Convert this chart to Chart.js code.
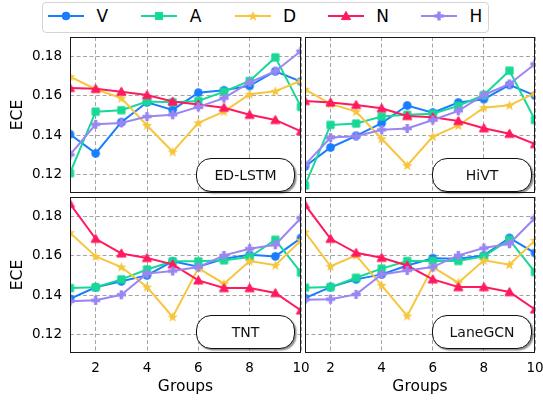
<!DOCTYPE html>
<html>
<head>
<meta charset="utf-8">
<script src="https://cdn.jsdelivr.net/npm/chart.js@4.4.1/dist/chart.umd.min.js"></script>
<style>
html,body{margin:0;padding:0;background:#fff;}
#wrap{position:relative;width:543px;height:403px;overflow:hidden;font-family:"DejaVu Sans",sans-serif;background:#fff;}
canvas.layer{position:absolute;left:0;top:0;}
.tag{position:absolute;box-sizing:border-box;border:1.3px solid #111;border-radius:15px;background:#fff;
  box-shadow:1.5px 1.5px 1.5px rgba(0,0,0,0.45);font-size:14px;display:flex;align-items:center;justify-content:center;color:#111;font-family:"DejaVu Sans",sans-serif;}
#legend{position:absolute;left:42px;top:2px;width:447px;height:31px;box-sizing:border-box;border:1px solid #d4d4d4;border-radius:4px;background:#fff;}
.lsym{position:absolute;}
.ltxt{position:absolute;font-size:17px;line-height:17px;height:17px;color:#000;white-space:nowrap;}
</style>
</head>
<body>
<div id="wrap">
  <canvas id="c0" class="layer" width="543" height="403"></canvas>
  <canvas id="c1" class="layer" width="543" height="403"></canvas>
  <canvas id="c2" class="layer" width="543" height="403"></canvas>
  <canvas id="c3" class="layer" width="543" height="403"></canvas>
  <div id="legend"></div>
</div>
<script>
// ---------------- data ----------------
const GROUPS = [1, 2, 3, 4, 5, 6, 7, 8, 9, 10];
const SERIES_NAMES = ['V', 'A', 'D', 'N', 'H'];
const PANEL_NAMES = ['ED-LSTM', 'HiVT', 'TNT', 'LaneGCN'];
const Y_TICKS = [0.12, 0.14, 0.16, 0.18];
const X_TICKS = [2, 4, 6, 8, 10];

const ED_LSTM_V = [0.1405, 0.1308, 0.1466, 0.1566, 0.1528, 0.1615, 0.1627, 0.1649, 0.1723, 0.1671];
const ED_LSTM_A = [0.1208, 0.1519, 0.1526, 0.1570, 0.1566, 0.1573, 0.1620, 0.1674, 0.1793, 0.1543];
const ED_LSTM_D = [0.1696, 0.1632, 0.1587, 0.1449, 0.1316, 0.1462, 0.1519, 0.1607, 0.1622, 0.1676];
const ED_LSTM_N = [0.1639, 0.1634, 0.1620, 0.1603, 0.1570, 0.1555, 0.1539, 0.1503, 0.1477, 0.1420];
const ED_LSTM_H = [0.1301, 0.1455, 0.1462, 0.1494, 0.1503, 0.1543, 0.1587, 0.1667, 0.1723, 0.1825];

const HIVT_V = [0.1242, 0.1338, 0.1397, 0.1461, 0.1550, 0.1514, 0.1565, 0.1582, 0.1654, 0.1600];
const HIVT_A = [0.1146, 0.1452, 0.1459, 0.1494, 0.1503, 0.1508, 0.1548, 0.1603, 0.1726, 0.1477];
const HIVT_D = [0.1632, 0.1558, 0.1519, 0.1382, 0.1247, 0.1393, 0.1449, 0.1539, 0.1551, 0.1612];
const HIVT_N = [0.1573, 0.1565, 0.1553, 0.1536, 0.1497, 0.1491, 0.1472, 0.1435, 0.1407, 0.1355];
const HIVT_H = [0.1250, 0.1388, 0.1395, 0.1427, 0.1434, 0.1477, 0.1523, 0.1603, 0.1659, 0.1760];

const TNT_V = [0.1382, 0.1440, 0.1470, 0.1500, 0.1571, 0.1544, 0.1584, 0.1604, 0.1596, 0.1689];
const TNT_A = [0.1436, 0.1440, 0.1480, 0.1530, 0.1571, 0.1571, 0.1576, 0.1593, 0.1680, 0.1514];
const TNT_D = [0.1716, 0.1596, 0.1542, 0.1441, 0.1290, 0.1537, 0.1458, 0.1573, 0.1551, 0.1677];
const TNT_N = [0.1862, 0.1685, 0.1611, 0.1588, 0.1556, 0.1475, 0.1436, 0.1436, 0.1411, 0.1323];
const TNT_H = [0.1369, 0.1374, 0.1402, 0.1509, 0.1522, 0.1542, 0.1601, 0.1635, 0.1655, 0.1790];

const LANEGCN_V = [0.1386, 0.1441, 0.1480, 0.1505, 0.1550, 0.1587, 0.1584, 0.1601, 0.1689, 0.1613];
const LANEGCN_A = [0.1438, 0.1441, 0.1488, 0.1534, 0.1573, 0.1573, 0.1573, 0.1596, 0.1680, 0.1517];
const LANEGCN_D = [0.1719, 0.1546, 0.1601, 0.1450, 0.1295, 0.1542, 0.1463, 0.1576, 0.1554, 0.1677];
const LANEGCN_N = [0.1857, 0.1685, 0.1614, 0.1589, 0.1550, 0.1480, 0.1441, 0.1441, 0.1416, 0.1328];
const LANEGCN_H = [0.1377, 0.1380, 0.1404, 0.1505, 0.1525, 0.1542, 0.1601, 0.1638, 0.1660, 0.1790];

// ---------------- styling ----------------
const COLORS = ['#1a7dff', '#17d995', '#f5c63e', '#ff1a5e', '#9a86f2'];
const MARKER_KINDS = ['circle', 'square', 'star', 'triangle', 'plus'];
const Y_MIN = 0.1108, Y_MAX = 0.1896;
const TICK_FONT = { family: 'DejaVu Sans', size: 13.5 };
const TITLE_FONT = { family: 'DejaVu Sans', size: 15.5 };

function drawShape(ctx, kind, cx, cy, color) {
  ctx.save();
  ctx.fillStyle = color;
  ctx.strokeStyle = color;
  ctx.lineWidth = 1;
  ctx.beginPath();
  if (kind === 'circle') {
    ctx.arc(cx, cy, 3.9, 0, Math.PI * 2);
  } else if (kind === 'square') {
    ctx.rect(cx - 3.6, cy - 3.6, 7.2, 7.2);
  } else if (kind === 'triangle') {
    ctx.moveTo(cx, cy - 4.6);
    ctx.lineTo(cx + 4.6, cy + 3.6);
    ctx.lineTo(cx - 4.6, cy + 3.6);
    ctx.closePath();
  } else if (kind === 'star') {
    const ro = 5.4, ri = 2.3;
    for (let k = 0; k < 10; k++) {
      const r = k % 2 === 0 ? ro : ri;
      const a = -Math.PI / 2 + k * Math.PI / 5;
      const px = cx + r * Math.cos(a), py = cy + 0.3 + r * Math.sin(a);
      if (k === 0) ctx.moveTo(px, py); else ctx.lineTo(px, py);
    }
    ctx.closePath();
  } else if (kind === 'plus') {
    const L = 4.6, T = 1.7;
    ctx.moveTo(cx - T, cy - L); ctx.lineTo(cx + T, cy - L); ctx.lineTo(cx + T, cy - T);
    ctx.lineTo(cx + L, cy - T); ctx.lineTo(cx + L, cy + T); ctx.lineTo(cx + T, cy + T);
    ctx.lineTo(cx + T, cy + L); ctx.lineTo(cx - T, cy + L); ctx.lineTo(cx - T, cy + T);
    ctx.lineTo(cx - L, cy + T); ctx.lineTo(cx - L, cy - T); ctx.lineTo(cx - T, cy - T);
    ctx.closePath();
  }
  ctx.fill();
  if (kind === 'circle' || kind === 'square' || kind === 'triangle') ctx.stroke();
  ctx.restore();
}

function makeMarker(kind, color) {
  const c = document.createElement('canvas');
  c.width = 13; c.height = 13;
  drawShape(c.getContext('2d'), kind, 6.5, 6.5, color);
  return c;
}
const MARKERS = MARKER_KINDS.map((k, i) => makeMarker(k, COLORS[i]));

const framePlugin = {
  id: 'frame',
  afterDatasetsDraw(chart) {
    const { ctx, chartArea: a } = chart;
    ctx.save();
    ctx.strokeStyle = '#1a1a1a';
    ctx.lineWidth = 1;
    ctx.setLineDash([]);
    ctx.strokeRect(a.left + 0.5, a.top + 0.5, a.right - a.left - 1, a.bottom - a.top - 1);
    ctx.restore();
  }
};

function zeroPad(s) { s.paddingLeft = 0; s.paddingRight = 0; s.paddingTop = 0; s.paddingBottom = 0; }

function makeChart(canvasId, series, cfg) {
  const datasets = SERIES_NAMES.map((name, i) => ({
    label: name,
    data: GROUPS.map((g, j) => ({ x: g, y: series[i][j] })),
    borderColor: COLORS[i],
    backgroundColor: COLORS[i],
    borderWidth: 2,
    pointStyle: MARKERS[i],
    pointRadius: 5,
    pointHoverRadius: 5,
    tension: 0,
    clip: 0,
    order: 4 - i
  }));
  return new Chart(document.getElementById(canvasId), {
    type: 'line',
    data: { datasets },
    plugins: [framePlugin],
    options: {
      responsive: false,
      animation: false,
      events: [],
      layout: { padding: cfg.pad },
      plugins: { legend: { display: false }, tooltip: { enabled: false } },
      scales: {
        x: {
          type: 'linear', position: 'bottom', min: 1, max: 10,
          afterBuildTicks: s => { s.ticks = X_TICKS.map(v => ({ value: v })); },
          ticks: { display: cfg.showX, autoSkip: false, maxRotation: 0, padding: 7, color: '#000', font: TICK_FONT, callback: v => String(v) },
          grid: { color: '#9a9a9a', lineWidth: 0.9, drawTicks: false },
          border: { display: false, dash: [4, 2.5] },
          title: { display: cfg.showX, text: 'Groups', color: '#000', font: TITLE_FONT, padding: { top: 0, bottom: 7 } },
          afterFit: s => { s.height = cfg.xH; zeroPad(s); }
        },
        y: {
          type: 'linear', position: 'left', min: Y_MIN, max: Y_MAX,
          afterBuildTicks: s => { s.ticks = Y_TICKS.map(v => ({ value: v })); },
          ticks: { display: cfg.showY, autoSkip: false, padding: 8, color: '#000', font: TICK_FONT, callback: v => Number(v).toFixed(2) },
          grid: { color: '#9a9a9a', lineWidth: 0.9, drawTicks: false },
          border: { display: false, dash: [4, 2.5] },
          title: { display: cfg.showY, text: 'ECE', color: '#000', font: TITLE_FONT, padding: { top: 8.5, bottom: 0 } },
          afterFit: s => { s.width = cfg.yW; zeroPad(s); }
        }
      }
    }
  });
}

makeChart('c0', [ED_LSTM_V, ED_LSTM_A, ED_LSTM_D, ED_LSTM_N, ED_LSTM_H],
  { pad: { left: 0, top: 37, right: 242, bottom: 210 }, xH: 0, yW: 70, showX: false, showY: true });
makeChart('c1', [HIVT_V, HIVT_A, HIVT_D, HIVT_N, HIVT_H],
  { pad: { left: 305, top: 37, right: 8, bottom: 210 }, xH: 0, yW: 0, showX: false, showY: false });
makeChart('c2', [TNT_V, TNT_A, TNT_D, TNT_N, TNT_H],
  { pad: { left: 0, top: 197, right: 242, bottom: 0 }, xH: 50, yW: 70, showX: true, showY: true });
makeChart('c3', [LANEGCN_V, LANEGCN_A, LANEGCN_D, LANEGCN_N, LANEGCN_H],
  { pad: { left: 305, top: 197, right: 8, bottom: 0 }, xH: 50, yW: 0, showX: true, showY: false });

// ---------------- panel tags ----------------
const TAG_BOXES = [[196, 158, 99, 34], [432, 158, 100, 34], [196, 315, 99, 34], [432, 315, 100, 34]];
const wrap = document.getElementById('wrap');
PANEL_NAMES.forEach((name, i) => {
  const d = document.createElement('div');
  d.className = 'tag';
  const b = TAG_BOXES[i];
  d.style.left = b[0] + 'px'; d.style.top = b[1] + 'px';
  d.style.width = b[2] + 'px'; d.style.height = b[3] + 'px';
  d.textContent = name;
  wrap.appendChild(d);
});

// ---------------- legend ----------------
SERIES_NAMES.forEach((name, i) => {
  const x0 = 48 + 93.25 * i;
  const c = document.createElement('canvas');
  c.className = 'lsym';
  c.width = 40; c.height = 14;
  c.style.left = (x0 - 2) + 'px'; c.style.top = '9px';
  const ctx = c.getContext('2d');
  ctx.strokeStyle = COLORS[i];
  ctx.lineWidth = 2;
  ctx.beginPath(); ctx.moveTo(2, 7); ctx.lineTo(38, 7); ctx.stroke();
  drawShape(ctx, MARKER_KINDS[i], 20, 7, COLORS[i]);
  wrap.appendChild(c);
  const t = document.createElement('span');
  t.className = 'ltxt';
  t.style.left = (x0 + 48.5) + 'px'; t.style.top = '8px';
  t.textContent = name;
  wrap.appendChild(t);
});
</script>
</body>
</html>
